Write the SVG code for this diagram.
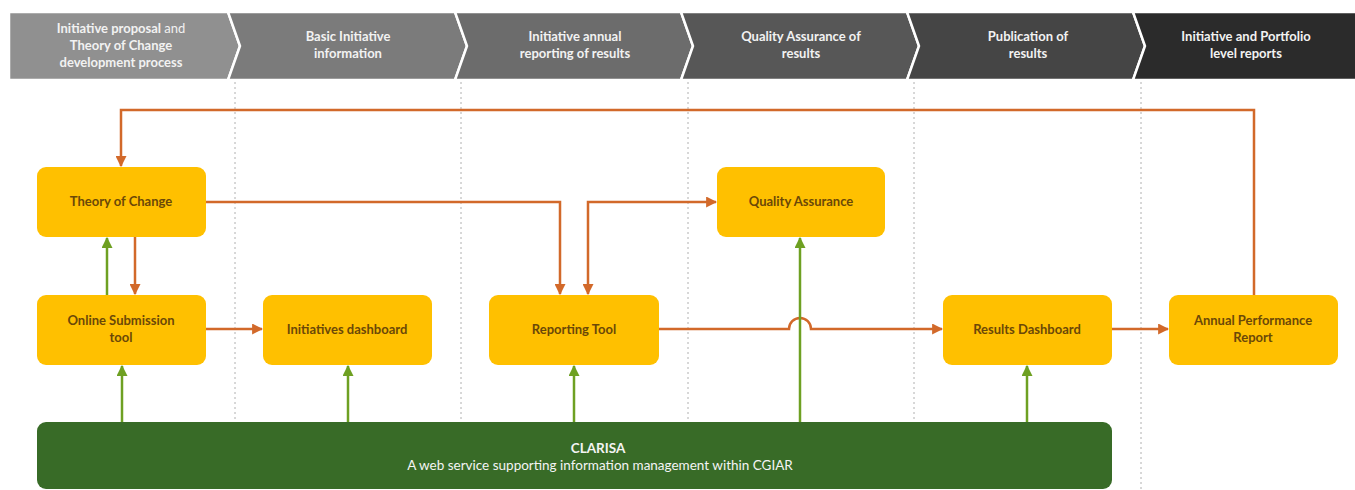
<svg xmlns="http://www.w3.org/2000/svg" width="1355" height="490" viewBox="0 0 1355 490">
  <style>
    .phase { stroke: #ffffff; stroke-width: 2.5; stroke-linejoin: miter; }
    .phase-text { font-family: Lato, "Open Sans", sans-serif; font-size: 13px; font-weight: bold; fill: #f2f2f2; text-anchor: middle; }
    .light { font-weight: normal; }
    .lane { stroke: #b0b0b0; stroke-width: 1; stroke-dasharray: 2 3; fill: none; }
    .node rect { fill: #ffc000; }
    .node text { font-family: Lato, "Open Sans", sans-serif; font-size: 13px; font-weight: bold; fill: #6b4808; text-anchor: middle; }
    .flow { stroke: #d2692a; stroke-width: 2.5; fill: none; }
    .feed { stroke: #6ea022; stroke-width: 2.5; fill: none; }
    .clarisa rect { fill: #386b27; }
    .clarisa text { font-family: Lato, "Open Sans", sans-serif; font-size: 13.5px; fill: #f4f4f4; text-anchor: middle; }
  </style>
  <defs>
    <marker id="arrow-orange" viewBox="0 0 10 10" refX="9" refY="5" markerWidth="4.4" markerHeight="4.4" orient="auto-start-reverse" markerUnits="strokeWidth">
      <path d="M0,0 L10,5 L0,10 Z" fill="#d2692a"/>
    </marker>
    <marker id="arrow-green" viewBox="0 0 10 10" refX="9" refY="5" markerWidth="4.4" markerHeight="4.4" orient="auto" markerUnits="strokeWidth">
      <path d="M0,0 L10,5 L0,10 Z" fill="#6ea022"/>
    </marker>
  </defs>

  <rect width="1355" height="490" fill="#ffffff"/>

  <!-- phase banner -->
  <g id="phases">
    <polygon class="phase" fill="#909090" points="9,12 228,12 240,46 228,80 9,80"/>
    <polygon class="phase" fill="#7b7b7b" points="228,12 455,12 467,46 455,80 228,80 240,46"/>
    <polygon class="phase" fill="#6c6c6c" points="455,12 681,12 693,46 681,80 455,80 467,46"/>
    <polygon class="phase" fill="#575757" points="681,12 907,12 919,46 907,80 681,80 693,46"/>
    <polygon class="phase" fill="#454545" points="907,12 1133,12 1145,46 1133,80 907,80 919,46"/>
    <polygon class="phase" fill="#2b2b2b" points="1133,12 1357,12 1357,80 1133,80 1145,46"/>
    <text class="phase-text" x="121" y="33">Initiative proposal <tspan class="light">and</tspan></text>
    <text class="phase-text" x="121" y="50">Theory of Change</text>
    <text class="phase-text" x="121" y="67">development process</text>
    <text class="phase-text" x="348" y="41">Basic Initiative</text>
    <text class="phase-text" x="348" y="58">information</text>
    <text class="phase-text" x="575" y="41">Initiative annual</text>
    <text class="phase-text" x="575" y="58">reporting of results</text>
    <text class="phase-text" x="801" y="41">Quality Assurance of</text>
    <text class="phase-text" x="801" y="58">results</text>
    <text class="phase-text" x="1028" y="41">Publication of</text>
    <text class="phase-text" x="1028" y="58">results</text>
    <text class="phase-text" x="1246" y="41">Initiative and Portfolio</text>
    <text class="phase-text" x="1246" y="58">level reports</text>
  </g>

  <!-- swimlane separators -->
  <g id="lanes">
    <line class="lane" x1="235" y1="82" x2="235" y2="490"/>
    <line class="lane" x1="461" y1="82" x2="461" y2="490"/>
    <line class="lane" x1="688" y1="82" x2="688" y2="490"/>
    <line class="lane" x1="914" y1="82" x2="914" y2="490"/>
    <line class="lane" x1="1141" y1="82" x2="1141" y2="490"/>
  </g>

  <!-- nodes -->
  <g id="theory-of-change" class="node">
    <rect x="37" y="167" width="169" height="70" rx="9"/>
    <text x="121" y="206">Theory of Change</text>
  </g>
  <g id="online-submission-tool" class="node">
    <rect x="37" y="295" width="169" height="70" rx="9"/>
    <text x="121" y="325">Online Submission</text>
    <text x="121" y="342">tool</text>
  </g>
  <g id="initiatives-dashboard" class="node">
    <rect x="263" y="295" width="169" height="70" rx="9"/>
    <text x="347" y="334">Initiatives dashboard</text>
  </g>
  <g id="reporting-tool" class="node">
    <rect x="489" y="295" width="170" height="70" rx="9"/>
    <text x="574" y="334">Reporting Tool</text>
  </g>
  <g id="quality-assurance" class="node">
    <rect x="717" y="167" width="168" height="70" rx="9"/>
    <text x="801" y="206">Quality Assurance</text>
  </g>
  <g id="results-dashboard" class="node">
    <rect x="943" y="295" width="169" height="70" rx="9"/>
    <text x="1027" y="334">Results Dashboard</text>
  </g>
  <g id="annual-performance-report" class="node">
    <rect x="1169" y="295" width="169" height="70" rx="9"/>
    <text x="1253" y="325">Annual Performance</text>
    <text x="1253" y="342">Report</text>
  </g>
  <g id="clarisa" class="clarisa">
    <rect x="37" y="422" width="1075" height="67" rx="9"/>
    <text x="598" y="453" font-weight="bold">CLARISA</text>
    <text x="600" y="470">A web service supporting information management within CGIAR</text>
  </g>

  <!-- connectors -->
  <g id="connectors">
    <!-- report feedback loop to Theory of Change -->
    <path class="flow" d="M1254,295 V110 H121 V166" marker-end="url(#arrow-orange)"/>
    <!-- Theory of Change to Reporting Tool -->
    <path class="flow" d="M206,202 H560 V294" marker-end="url(#arrow-orange)"/>
    <!-- Reporting Tool and Quality Assurance, both ways -->
    <path class="flow" d="M588,294 V202 H716" marker-start="url(#arrow-orange)" marker-end="url(#arrow-orange)"/>
    <!-- Theory of Change down to Online Submission tool -->
    <path class="flow" d="M135,237 V294" marker-end="url(#arrow-orange)"/>
    <!-- Online Submission tool to Initiatives dashboard -->
    <path class="flow" d="M206,329 H262" marker-end="url(#arrow-orange)"/>
    <!-- Reporting Tool to Results Dashboard, hopping over the QA feed -->
    <path class="flow" d="M659,329 H789 A11,11 0 0 1 811,329 H942" marker-end="url(#arrow-orange)"/>
    <!-- Results Dashboard to Annual Performance Report -->
    <path class="flow" d="M1112,329 H1168" marker-end="url(#arrow-orange)"/>

    <!-- Online Submission tool up to Theory of Change -->
    <path class="feed" d="M107,295 V238" marker-end="url(#arrow-green)"/>
    <!-- CLARISA feeds -->
    <path class="feed" d="M122,422 V366" marker-end="url(#arrow-green)"/>
    <path class="feed" d="M348,422 V366" marker-end="url(#arrow-green)"/>
    <path class="feed" d="M574,422 V366" marker-end="url(#arrow-green)"/>
    <path class="feed" d="M800,422 V238" marker-end="url(#arrow-green)"/>
    <path class="feed" d="M1027,422 V366" marker-end="url(#arrow-green)"/>
  </g>
</svg>
